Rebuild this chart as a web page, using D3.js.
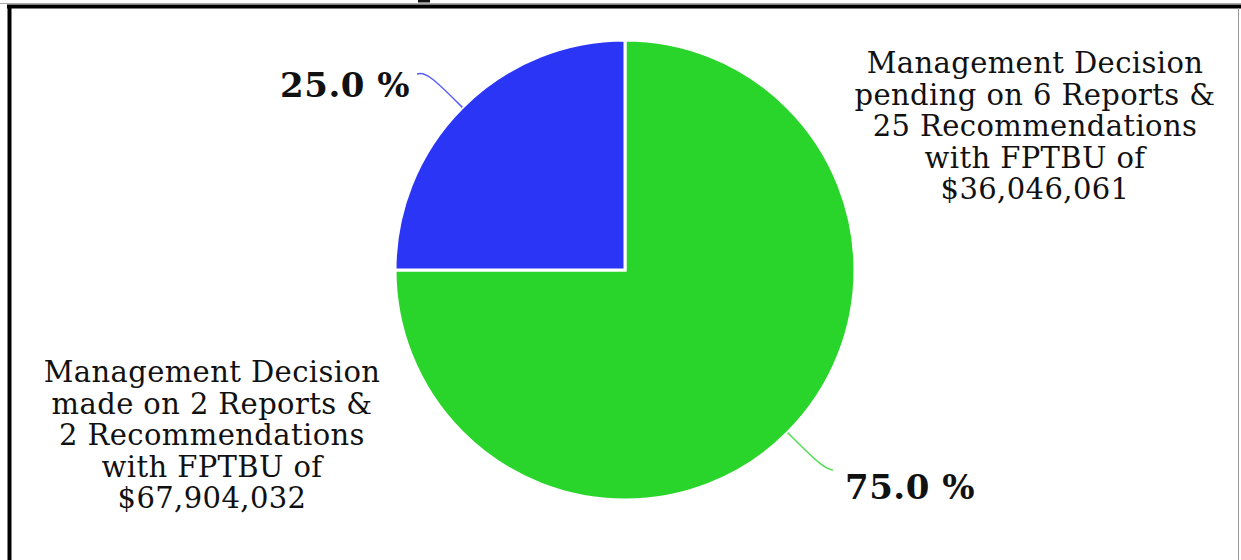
<!DOCTYPE html>
<html>
<head>
<meta charset="utf-8">
<script src="https://cdn.jsdelivr.net/npm/d3@7"></script>
<style>
  html, body { margin: 0; padding: 0; background: #fff; }
  svg { display: block; }
</style>
</head>
<body>
<div id="chart"></div>
<script>
// data
const categories = ["Management Decision made", "Management Decision pending"];
const shares = [75.0, 25.0];
const colors = ["#29d52a", "#2b35f6"];
const pctLabels = ["75.0 %", "25.0 %"];
const descLines = [
    ["Management Decision", "made on 2 Reports &", "2 Recommendations", "with FPTBU of", "$67,904,032"],
    ["Management Decision", "pending on 6 Reports &", "25 Recommendations", "with FPTBU of", "$36,046,061"]
];

let fullWidth = 1241, fullHeight = 560;
let cx = 625, cy = 270, radius = 230;

let svg = d3.select("#chart")
    .append("svg")
    .attr("width", fullWidth)
    .attr("height", fullHeight);

// frame
svg.append("line").attr("x1", 0).attr("x2", fullWidth).attr("y1", 3.5).attr("y2", 3.5)
    .style("stroke", "#aaa").style("stroke-width", 1);
svg.append("line").attr("x1", 7).attr("x2", fullWidth).attr("y1", 6.5).attr("y2", 6.5)
    .style("stroke", "#000").style("stroke-width", 4);
svg.append("line").attr("x1", 9.5).attr("x2", 9.5).attr("y1", 5).attr("y2", fullHeight)
    .style("stroke", "#000").style("stroke-width", 4);
svg.append("line").attr("x1", 1238.5).attr("x2", 1238.5).attr("y1", 8).attr("y2", fullHeight)
    .style("stroke", "#999").style("stroke-width", 1);
// bit of the clipped title above the frame
svg.append("rect").attr("x", 418).attr("y", 0).attr("width", 12).attr("height", 2.5).attr("fill", "#111");

let g = svg.append("g").attr("transform", `translate(${cx},${cy})`);

let pie = d3.pie().sort(null).value(d => d);
let arcs = pie(shares);
let arc = d3.arc().innerRadius(0).outerRadius(radius);

g.selectAll(".slice")
    .data(arcs)
    .enter()
    .append("path")
    .attr("class", "slice")
    .attr("d", arc)
    .attr("fill", (d, i) => colors[i])
    .style("stroke", "#fff")
    .style("stroke-width", 3);

// leader lines
let leader = d3.line().curve(d3.curveBasis);
function polar(a, r) { return [Math.sin(a) * r, -Math.cos(a) * r]; }

arcs.forEach((d, i) => {
    let mid = (d.startAngle + d.endAngle) / 2;
    let p0 = polar(mid, radius);
    let p1 = polar(mid, radius + 50);
    let side = Math.sin(mid) > 0 ? 1 : -1;
    let p2 = [p1[0] + side * 10, p1[1] + 2];
    g.append("path")
        .attr("d", leader([p0, p0, p1, p2, p2]))
        .attr("fill", "none")
        .style("stroke", colors[i])
        .style("stroke-width", 1.5)
        .style("opacity", 0.8);
    g.append("text")
        .attr("x", p2[0] + side * (side > 0 ? 12 : 7))
        .attr("y", p2[1] + (side > 0 ? 29 : 23))
        .attr("text-anchor", side > 0 ? "start" : "end")
        .style("font-family", "'DejaVu Serif', serif")
        .style("font-weight", "bold")
        .style("font-size", "34px")
        .style("letter-spacing", "0.5px")
        .style("fill", "#111")
        .text(pctLabels[i]);
});

// description blocks
let descPos = [[212, 382], [1035, 73]];
descLines.forEach((lines, i) => {
    let t = svg.append("text")
        .attr("text-anchor", "middle")
        .style("font-family", "'DejaVu Serif', serif")
        .style("font-size", "29px")
        .style("letter-spacing", "0.4px")
        .style("fill", "#111");
    lines.forEach((s, j) => {
        t.append("tspan")
            .attr("x", descPos[i][0])
            .attr("y", descPos[i][1] + j * 31.6)
            .text(s);
    });
});
</script>
</body>
</html>
